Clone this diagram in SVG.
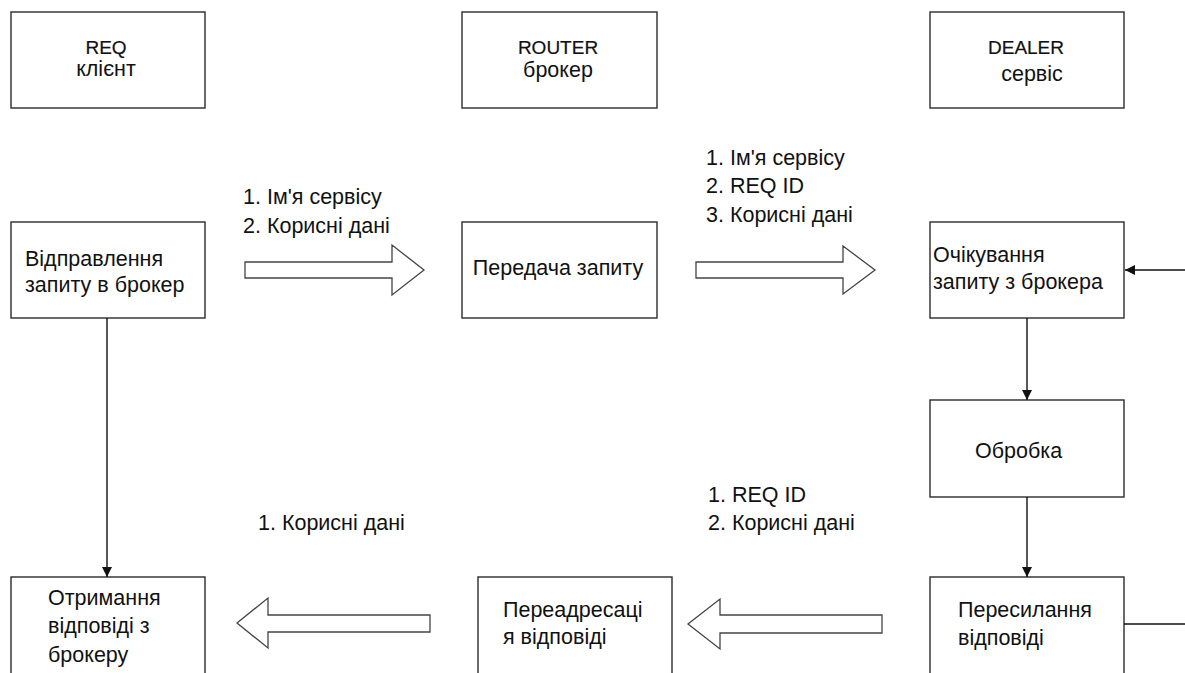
<svg xmlns="http://www.w3.org/2000/svg" width="1185" height="673" viewBox="0 0 1185 673">
<style>
.box{fill:#fff;stroke:#2b2b2b;stroke-width:1.4}
.hd{font-family:"Liberation Sans",Arial,sans-serif;font-size:19px;fill:#111;stroke:#111;stroke-width:0.2}
.hc{font-family:"Liberation Sans",Arial,sans-serif;font-size:21.5px;fill:#111}
.t{font-family:"Liberation Sans",Arial,sans-serif;font-size:21.5px;fill:#111}
.c{text-anchor:middle}
.big{fill:#fff;stroke:#444;stroke-width:1.3}
.ln{fill:none;stroke:#111;stroke-width:1.4}
</style>
<defs>
<marker id="ah" markerWidth="10" markerHeight="10" refX="10" refY="5" orient="auto" markerUnits="userSpaceOnUse">
<path d="M0,0 L10,5 L0,10 Z" fill="#111"/>
</marker>
</defs>
<rect width="1185" height="673" fill="#fff"/>

<g id="req">
<rect class="box" x="11" y="12" width="194" height="96"/>
<text class="hd c" x="106" y="54">REQ</text>
<text class="hc c" x="106" y="76">клієнт</text>
</g>
<g id="router">
<rect class="box" x="462" y="12" width="195" height="96"/>
<text class="hd c" x="558" y="54">ROUTER</text>
<text class="hc c" x="558" y="77">брокер</text>
</g>
<g id="dealer">
<rect class="box" x="930" y="12" width="194" height="96"/>
<text class="hd c" x="1026" y="54">DEALER</text>
<text class="hc c" x="1032" y="81">сервіс</text>
</g>

<g id="send">
<rect class="box" x="11" y="222" width="194" height="96"/>
<text class="t" x="25" y="266">Відправлення</text>
<text class="t" x="25" y="292">запиту в брокер</text>
</g>
<g id="forward">
<rect class="box" x="462" y="222" width="195" height="96"/>
<text class="t c" x="558" y="275">Передача запиту</text>
</g>
<g id="wait">
<rect class="box" x="930" y="222" width="194" height="96"/>
<text class="t" x="933" y="262">Очікування</text>
<text class="t" x="933" y="289">запиту з брокера</text>
</g>
<g id="process">
<rect class="box" x="930" y="400" width="194" height="97"/>
<text class="t" x="975" y="458">Обробка</text>
</g>
<g id="receive">
<rect class="box" x="11" y="577" width="194" height="100"/>
<text class="t" x="48" y="605">Отримання</text>
<text class="t" x="48" y="633">відповіді з</text>
<text class="t" x="48" y="662">брокеру</text>
</g>
<g id="redirect">
<rect class="box" x="478" y="577" width="194" height="100"/>
<text class="t" x="503" y="617">Переадресаці</text>
<text class="t" x="503" y="644">я відповіді</text>
</g>
<g id="resend">
<rect class="box" x="930" y="577" width="194" height="100"/>
<text class="t" x="958" y="617">Пересилання</text>
<text class="t" x="958" y="645">відповіді</text>
</g>

<g id="labels">
<text class="t" x="243" y="204">1. Ім'я сервісу</text>
<text class="t" x="243" y="233">2. Корисні дані</text>
<text class="t" x="706" y="165">1. Ім'я сервісу</text>
<text class="t" x="706" y="193">2. REQ ID</text>
<text class="t" x="706" y="222">3. Корисні дані</text>
<text class="t" x="708" y="502">1. REQ ID</text>
<text class="t" x="708" y="530">2. Корисні дані</text>
<text class="t" x="258" y="530">1. Корисні дані</text>
</g>

<g id="connectors">
<path class="big" d="M245,262 L392,262 L392,245 L424,270 L392,295 L392,278 L245,278 Z"/>
<path class="big" d="M696,262 L843,262 L843,246 L875,270 L843,294 L843,278 L696,278 Z"/>
<path class="big" d="M430,615 L268,615 L268,598 L237,623 L268,648 L268,632 L430,632 Z"/>
<path class="big" d="M882,615 L720,615 L720,599 L688,624 L720,649 L720,633 L882,633 Z"/>
<line class="ln" x1="107" y1="318" x2="107" y2="577" marker-end="url(#ah)"/>
<line class="ln" x1="1027" y1="318" x2="1027" y2="400" marker-end="url(#ah)"/>
<line class="ln" x1="1027" y1="497" x2="1027" y2="577" marker-end="url(#ah)"/>
<line class="ln" x1="1185" y1="270" x2="1125" y2="270" marker-end="url(#ah)"/>
<line class="ln" x1="1124" y1="624" x2="1185" y2="624"/>
</g>
</svg>
